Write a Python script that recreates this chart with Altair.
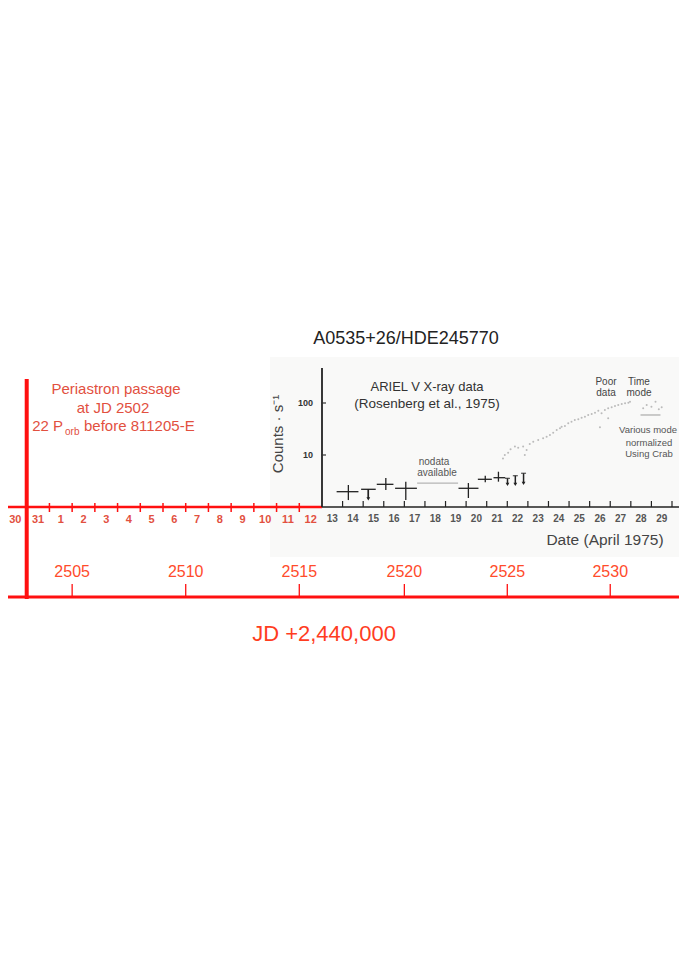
import altair as alt
import pandas as pd

FONT = "Liberation Sans"

# ---------------- data (day coordinate t = days since 1975 April 1.0) ----------------
red_day_labels = ["30", "31", "1", "2", "3", "4", "5", "6", "7", "8", "9", "10", "11", "12"]
red_day_ticks = [-2, -1, 0, 1, 2, 3, 4, 5, 6, 7, 8, 9, 10, 11]
black_day_labels = [str(d) for d in range(13, 30)]
black_day_ticks = list(range(13, 30))

jd_labels = [2505, 2510, 2515, 2520, 2525, 2530]
jd_offset = 2504  # figure alignment: JD 2505 sits on the April 2 boundary

periastron_t = -1.0

y_tick_values = [10, 100]
y_tick_labels = ["10", "100"]

# ARIEL V crosses (t centre, t range, counts centre, counts range)
cross_t = [13.28, 14.25, 15.10, 16.07, 19.11, 19.93, 20.57]
cross_t_lo = [12.71, 13.90, 14.66, 15.55, 18.63, 19.57, 20.33]
cross_t_hi = [13.77, 14.61, 15.47, 16.61, 19.60, 20.25, 20.90]
cross_c = [1.97, 2.19, 2.73, 2.29, 2.29, 3.41, 3.66]
cross_c_lo = [1.36, 1.49, 2.12, 1.36, 1.49, 2.99, 3.07]
cross_c_hi = [2.65, 2.22, 3.61, 3.07, 2.89, 4.00, 4.77]

# upper-limit style points
lim_t = [14.25, 21.01, 21.39, 21.79]
lim_top = [2.19, 3.56, 4.00, 4.45]
lim_bot = [1.44, 2.73, 2.73, 2.86]

# faint high-resolution points
dots_t = [20.79, 20.88, 21.04, 21.16, 21.37, 21.53, 21.77, 21.94, 21.85, 22.09, 22.26,
          22.50, 22.74, 22.91, 23.07, 23.23, 23.40, 23.56, 23.64, 23.80, 23.96, 24.12,
          24.28, 24.45, 24.61, 24.77, 24.93, 25.10, 25.26, 25.42, 25.58, 25.74, 25.90,
          26.07, 26.23, 26.39, 26.56, 26.72, 26.88, 26.96, 25.50, 25.90,
          27.60, 27.77, 28.00, 28.20, 28.36, 28.50]
dots_c = [8.6, 10.0, 11.1, 12.9, 14.5, 13.8, 14.5, 12.5, 10.0, 16.3, 18.0,
          19.4, 20.9, 22.5, 24.3, 26.8, 30.3, 32.6, 35.0, 36.0, 40.7, 43.8,
          47.1, 48.5, 52.2, 54.6, 58.8, 61.4, 65.2, 71.1, 63.3, 73.3, 79.0,
          82.7, 87.5, 91.6, 95.6, 98.6, 101.0, 106.0, 34.1, 50.8,
          79.0, 91.6, 85.0, 106.0, 75.5, 82.7]

various_mode_t = [27.47, 28.44]
various_mode_c = 58.8
no_data_t = [16.62, 18.61]
no_data_c = 2.89

# ---------------- scales ----------------
xs = alt.Scale(domain=[-2, 12, 29], range=[-4, 314, 664], nice=False, zero=False)
ys = alt.Scale(type="log", domain=[1, 471], range=[499, 360], nice=False)

RED = "#ff1010"
RED_TXT = "#e2503f"
JD_TXT = "#ff4b2b"


def X(field):
    return alt.X(field, type="quantitative", scale=xs, axis=None)


def Y(field):
    return alt.Y(field, type="quantitative", scale=ys, axis=None)


def txt(s, x, y, size, color, align="center", weight="normal", angle=0):
    return alt.Chart(pd.DataFrame({"s": [s]})).mark_text(
        align=align, baseline="middle", fontSize=size, color=color, font=FONT,
        fontWeight=weight, angle=angle
    ).encode(x=alt.value(x), y=alt.value(y), text="s:N")


layers = []

# inset background
layers.append(alt.Chart(pd.DataFrame({"a": [0]})).mark_rect(color="#f9f9f8").encode(
    x=alt.value(262), x2=alt.value(679), y=alt.value(349), y2=alt.value(549)))

# ---- red day axis ----
layers.append(alt.Chart(pd.DataFrame({"t0": [red_day_ticks[0]], "t1": [12]})).mark_rule(
    color=RED, strokeWidth=2.5).encode(x=X("t0"), x2="t1:Q", y=alt.value(499)))
layers.append(alt.Chart(pd.DataFrame({"t": red_day_ticks})).mark_rule(
    color=RED, strokeWidth=1.5).encode(x=X("t"), y=alt.value(495), y2=alt.value(504)))
layers.append(alt.Chart(pd.DataFrame({"t": [v + 0.5 for v in red_day_ticks], "lab": red_day_labels}))
              .mark_text(fontSize=11, fontWeight="bold", color=RED_TXT, font=FONT, baseline="middle")
              .encode(x=X("t"), y=alt.value(512), text="lab:N"))

# ---- black inset axes ----
layers.append(alt.Chart(pd.DataFrame({"t0": [12], "t1": [29.53]})).mark_rule(
    color="#222222", strokeWidth=1.5).encode(x=X("t0"), x2="t1:Q", y=alt.value(499)))
layers.append(alt.Chart(pd.DataFrame({"t": black_day_ticks})).mark_rule(
    color="#222222", strokeWidth=1.2).encode(x=X("t"), y=alt.value(493), y2=alt.value(499)))
layers.append(alt.Chart(pd.DataFrame({"t": [v - 0.5 for v in black_day_ticks], "lab": black_day_labels}))
              .mark_text(fontSize=10, fontWeight="bold", color="#555555", font=FONT, baseline="middle")
              .encode(x=X("t"), y=alt.value(511), text="lab:N"))
layers.append(alt.Chart(pd.DataFrame({"t": [12], "c0": [1], "c1": [471]})).mark_rule(
    color="#222222", strokeWidth=1.8).encode(x=X("t"), y=Y("c0"), y2="c1:Q"))
layers.append(alt.Chart(pd.DataFrame({"c": y_tick_values})).mark_rule(
    color="#333333", strokeWidth=1.2).encode(x=alt.value(313), x2=alt.value(318), y=Y("c")))
layers.append(alt.Chart(pd.DataFrame({"c": y_tick_values, "lab": y_tick_labels}))
              .mark_text(fontSize=9, fontWeight="bold", color="#333333", font=FONT, align="right",
                         baseline="middle")
              .encode(x=alt.value(305), y=Y("c"), text="lab:N"))

# ---- data ----
cross_df = pd.DataFrame({"t": cross_t, "tlo": cross_t_lo, "thi": cross_t_hi,
                         "c": cross_c, "clo": cross_c_lo, "chi": cross_c_hi})
layers.append(alt.Chart(cross_df).mark_rule(color="#222222", strokeWidth=1.3).encode(
    x=X("tlo"), x2="thi:Q", y=Y("c")))
layers.append(alt.Chart(cross_df).mark_rule(color="#222222", strokeWidth=1.3).encode(
    x=X("t"), y=Y("clo"), y2="chi:Q"))

lim_df = pd.DataFrame({"t": lim_t, "top": lim_top, "bot": lim_bot})
layers.append(alt.Chart(lim_df).mark_rule(color="#222222", strokeWidth=1.5).encode(
    x=X("t"), y=Y("top"), y2="bot:Q"))
layers.append(alt.Chart(lim_df).mark_point(shape="triangle-down", filled=True, color="#222222",
                                           size=14, opacity=1).encode(x=X("t"), y=Y("bot")))
layers.append(alt.Chart(lim_df.iloc[1:]).mark_tick(color="#222222", thickness=1.3, size=5,
                                                   orient="horizontal").encode(x=X("t"), y=Y("top")))

layers.append(alt.Chart(pd.DataFrame({"t": dots_t, "c": dots_c})).mark_circle(
    color="#ababab", size=4, opacity=0.8).encode(x=X("t"), y=Y("c")))

layers.append(alt.Chart(pd.DataFrame({"t0": [various_mode_t[0]], "t1": [various_mode_t[1]],
                                      "c": [various_mode_c]}))
              .mark_rule(color="#aaaaaa", strokeWidth=1.2).encode(x=X("t0"), x2="t1:Q", y=Y("c")))
layers.append(alt.Chart(pd.DataFrame({"t0": [no_data_t[0]], "t1": [no_data_t[1]], "c": [no_data_c]}))
              .mark_rule(color="#b5b5b5", strokeWidth=1.2).encode(x=X("t0"), x2="t1:Q", y=Y("c")))

# ---- periastron marker ----
layers.append(alt.Chart(pd.DataFrame({"t": [periastron_t]})).mark_rule(
    color=RED, strokeWidth=4).encode(x=X("t"), y=alt.value(371), y2=alt.value(591)))

# ---- JD axis ----
jd_df = pd.DataFrame({"t": [j - jd_offset for j in jd_labels], "lab": [str(j) for j in jd_labels]})
layers.append(alt.Chart(pd.DataFrame({"t0": [-2], "t1": [29.53]})).mark_rule(
    color=RED, strokeWidth=3).encode(x=X("t0"), x2="t1:Q", y=alt.value(589)))
layers.append(alt.Chart(jd_df).mark_rule(color=RED, strokeWidth=1.3).encode(
    x=X("t"), y=alt.value(576), y2=alt.value(589)))
layers.append(alt.Chart(jd_df).mark_text(fontSize=16, color=JD_TXT, font=FONT, baseline="middle")
              .encode(x=X("t"), y=alt.value(564), text="lab:N"))

# ---- texts ----
layers += [
    txt("A0535+26/HDE245770", 398, 331, 18, "#222222"),
    txt("Periastron passage", 108, 381, 15, RED_TXT),
    txt("at JD 2502", 105, 400, 15, RED_TXT),
    txt("22 P", 55, 418, 15, RED_TXT, align="right"),
    txt("orb", 57, 424, 10, RED_TXT, align="left"),
    txt("before 811205-E", 76, 418, 15, RED_TXT, align="left"),
    txt("ARIEL V X-ray data", 419, 379, 13, "#333333"),
    txt("(Rosenberg et al., 1975)", 419, 396, 13.5, "#333333"),
    txt("Counts \u00b7 s\u207b\u00b9", 270, 426, 15, "#444444", angle=270),
    txt("Date (April 1975)", 597, 532, 15.5, "#444444"),
    txt("nodata", 426, 454, 10, "#555555"),
    txt("available", 429, 465, 10, "#555555"),
    txt("Poor", 598, 374, 10, "#444444"),
    txt("data", 598, 385, 10, "#444444"),
    txt("Time", 631, 374, 10, "#444444"),
    txt("mode", 631, 385, 10, "#444444"),
    txt("Various mode", 640, 422, 9.5, "#555555"),
    txt("normalized", 641, 435, 9.5, "#555555"),
    txt("Using Crab", 641, 446, 9.5, "#555555"),
    txt("JD +2,440,000", 316, 626, 22, "#ff3d1f"),
]

chart = alt.layer(*layers).properties(
    width=671, height=650, padding=0,
    autosize=alt.AutoSizeParams(type="none"),
).configure_view(stroke=None)

chart.save("out.html", embed_options={"renderer": "svg", "actions": False})
